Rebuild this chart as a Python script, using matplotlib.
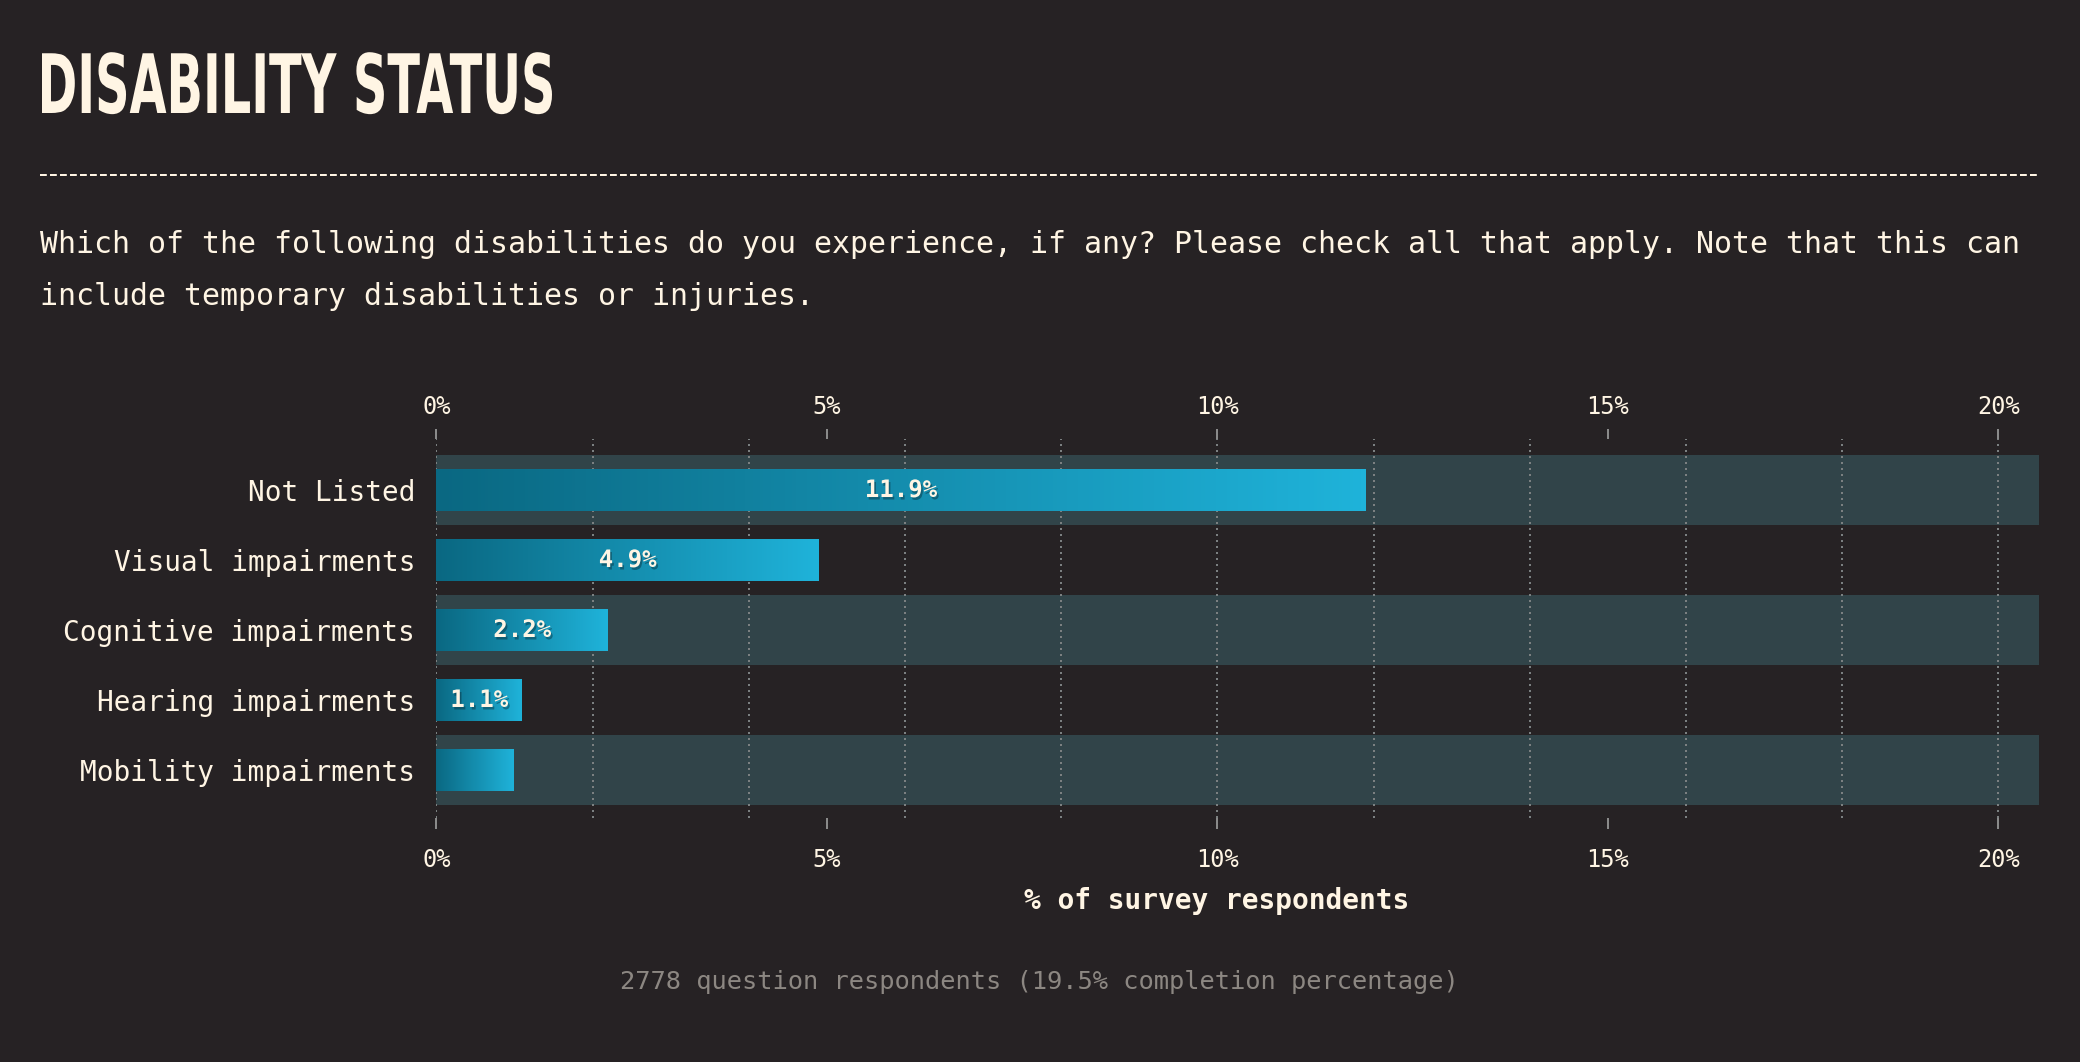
import numpy as np
import matplotlib
matplotlib.use("Agg")
import matplotlib.pyplot as plt
from matplotlib.colors import LinearSegmentedColormap
from matplotlib.transforms import Affine2D
import matplotlib.patheffects as pe

# ---------------- data ----------------
categories = ["Not Listed", "Visual impairments", "Cognitive impairments",
              "Hearing impairments", "Mobility impairments"]
values = [11.9, 4.9, 2.2, 1.1, 0.99]
value_labels = ["11.9%", "4.9%", "2.2%", "1.1%", ""]
tick_values = [0, 5, 10, 15, 20]
tick_labels = ["0%", "5%", "10%", "15%", "20%"]
grid_values = [0, 2, 4, 6, 8, 10, 12, 14, 16, 18, 20]

title = "DISABILITY STATUS"
subtitle_lines = ["Which of the following disabilities do you experience, if any? Please check all that apply. Note that this can",
                  "include temporary disabilities or injuries."]
xlabel = "% of survey respondents"
footer = "2778 question respondents (19.5% completion percentage)"

# ---------------- style ----------------
BG = "#262224"
BAND = "#314449"
CREAM = "#fff5e4"
GRID = "#7b8081"
TICKC = "#8a8a8a"
FOOT = "#8c8782"
bar_cmap = LinearSegmentedColormap.from_list("bar", ["#0a6882", "#1fb3da"])
MONO = ["DejaVu Sans Mono"]

W, H = 2080, 1062
def fx(px): return px / W
def fy(py): return 1 - py / H


class Squeeze(pe.AbstractPathEffect):
    """Horizontally compress a text path so its ink spans [left_px, left_px+target_w]."""
    def __init__(self, left_px, target_w):
        super().__init__()
        self.left_px = left_px
        self.target_w = target_w

    def draw_path(self, renderer, gc, tpath, affine, rgbFace=None):
        ext = tpath.transformed(affine).get_extents()
        sx = self.target_w / ext.width if ext.width > 0 else 1.0
        aff = affine + Affine2D().translate(-ext.x0, 0).scale(sx, 1).translate(self.left_px, 0)
        renderer.draw_path(gc, tpath, aff, rgbFace)


fig = plt.figure(figsize=(W / 100, H / 100), dpi=100, facecolor=BG)

# axes placement (px): x 0% at 436.4, xlim right edge 2039; y 439..818
xmax = 20.52
ax_left, ax_right = 436.4, 2039.0
ax_top, ax_bot = 439.0, 818.0
ax = fig.add_axes([fx(ax_left), fy(ax_bot), (ax_right - ax_left) / W, (ax_bot - ax_top) / H])
ax.set_facecolor(BG)
for s in ax.spines.values():
    s.set_visible(False)

n = len(categories)
ypos = np.arange(n)
ylim = (4.686, -0.729)

# alternating bands
for i in ypos:
    if i % 2 == 0:
        ax.axhspan(i - 0.5, i + 0.5, color=BAND, zorder=0, lw=0)

# dotted grid
ax.vlines(grid_values, ylim[0], ylim[1], colors=GRID, linestyles=(0, (1, 2)), lw=1.44, zorder=1)

# gradient bars
bh = 0.59
bars = ax.barh(ypos, values, height=bh, color="none", lw=0, zorder=2)
grad = np.linspace(0, 1, 256).reshape(1, -1)
for b, v, i in zip(bars, values, ypos):
    im = ax.imshow(grad, cmap=bar_cmap, extent=(0, v, i + bh / 2, i - bh / 2),
                   aspect="auto", zorder=2, interpolation="bilinear")
    im.set_clip_path(b)

ax.set_xlim(0, xmax)
ax.set_ylim(*ylim)

# value labels
for v, i, lab in zip(values, ypos, value_labels):
    if lab:
        ax.text(v / 2, i, lab, ha="center", va="center", color=CREAM,
                fontsize=17.3, fontweight="bold", family=MONO, zorder=4,
                path_effects=[pe.SimplePatchShadow(offset=(1.2, -1.8), shadow_rgbFace="#06202a", alpha=0.4),
                              pe.Normal()])

# y labels
ax.set_yticks(ypos)
ax.set_yticklabels(categories, family=MONO, fontsize=20, color=CREAM)
ax.tick_params(axis="y", length=0, pad=15.3)

# bottom x ticks
ax.set_xticks(tick_values)
ax.set_xticklabels(tick_labels, family=MONO, fontsize=17, color=CREAM)
ax.tick_params(axis="x", direction="out", length=8, width=1.44, color=TICKC, pad=13.5)

# top x ticks
sec = ax.secondary_xaxis("top")
sec.set_xticks(tick_values)
sec.set_xticklabels(tick_labels, family=MONO, fontsize=17, color=CREAM)
sec.tick_params(axis="x", direction="out", length=7.5, width=1.44, color=TICKC, pad=7)
for s in sec.spines.values():
    s.set_visible(False)

# x label
fig.text(fx(1217), fy(901), xlabel, ha="center", va="center", family=MONO,
         fontsize=20, fontweight="bold", color=CREAM)

# footer
fig.text(fx(1039), fy(982), footer, ha="center", va="center", family=MONO,
         fontsize=18.3, color=FOOT)

# title
fig.text(fx(42), fy(113), title, ha="left", va="baseline", family=["DejaVu Sans"],
         fontsize=59, fontweight="bold", color=CREAM,
         path_effects=[Squeeze(42, 510)])

# dashed separator
fig.add_artist(plt.Line2D([fx(40), fx(2039)], [fy(175), fy(175)], transform=fig.transFigure,
                          color=CREAM, lw=1.44, linestyle=(0, (3.4, 1.6)), solid_capstyle="butt"))

# subtitle
fig.text(fx(40), fy(253), subtitle_lines[0], ha="left", va="baseline", family=MONO,
         fontsize=21.5, color=CREAM)
fig.text(fx(40), fy(305), subtitle_lines[1], ha="left", va="baseline", family=MONO,
         fontsize=21.5, color=CREAM)

fig.savefig("out.png", dpi=100, facecolor=BG)
